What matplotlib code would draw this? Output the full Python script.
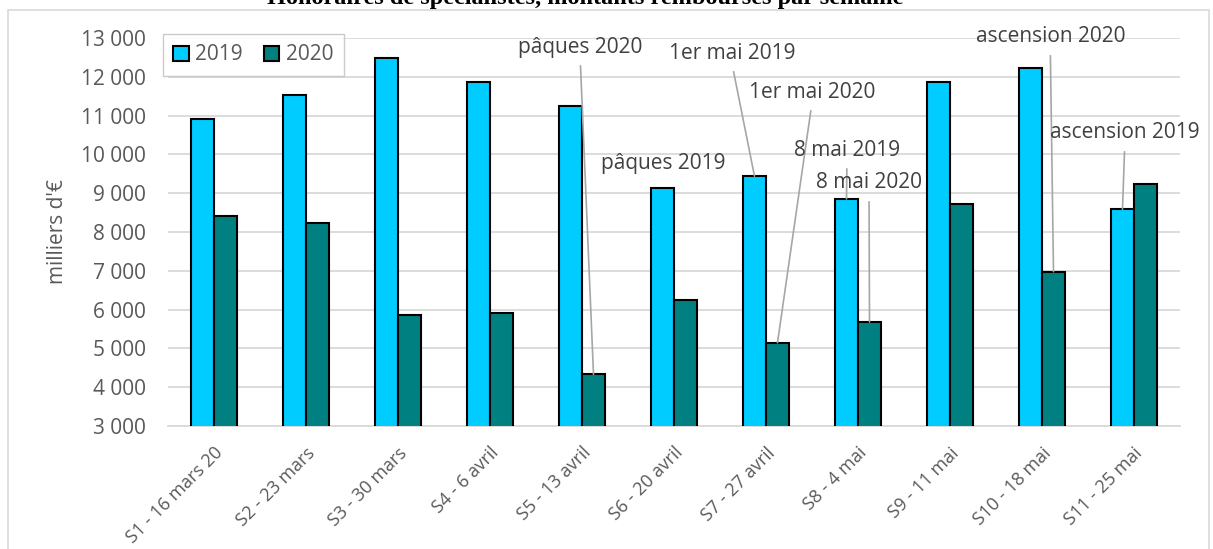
'''
Weekly reimbursed specialist fees, 2019 vs 2020, grouped bar chart with holiday callouts.
'''
import matplotlib.pyplot as plt
import numpy as np
from matplotlib.patches import Rectangle
from matplotlib.ticker import FuncFormatter, MultipleLocator
from matplotlib.transforms import ScaledTranslation

# Data (milliers d'€)
weeks = ["S1 - 16 mars 20", "S2 - 23 mars", "S3 - 30 mars", "S4 - 6 avril",
         "S5 - 13 avril", "S6 - 20 avril", "S7 - 27 avril", "S8 - 4 mai",
         "S9 - 11 mai", "S10 - 18 mai", "S11 - 25 mai"]
values_2019 = [10900, 11520, 12490, 11870, 11260, 9130, 9440, 8850, 11860, 12235, 8585]
values_2020 = [8425, 8240, 5870, 5900, 4330, 6245, 5145, 5680, 8730, 6975, 9240]

# Callouts: label, series year, week index
callout_labels = ["pâques 2020", "pâques 2019", "1er mai 2019", "1er mai 2020",
                  "8 mai 2019", "8 mai 2020", "ascension 2020", "ascension 2019"]
callout_years = [2020, 2019, 2019, 2020, 2019, 2020, 2020, 2019]
callout_weeks = [4, 5, 6, 6, 7, 7, 9, 10]
callout_has_line = [True, False, True, True, True, True, True, True]
# label centre positions (x in category units, y in data units)
callout_pos = [(3.98, 12768), (4.88, 9778), (5.63, 12613), (6.50, 11608),
               (6.88, 10113), (7.12, 9263), (9.09, 13030), (9.90, 10552)]

color_2019 = "#00CCFF"
color_2020 = "#008080"
text_color = "#595959"
grid_color = "#D9D9D9"

plt.rcParams['font.family'] = ['Open Sans', 'DejaVu Sans']

fig = plt.figure(figsize=(12.13, 5.49), dpi=100)
ax = fig.add_axes([168 / 1213, 1 - 426 / 549, (1180 - 168) / 1213, (426 - 38) / 549])

x = np.arange(len(weeks))
width = 0.25
ax.bar(x - width / 2, values_2019, width, color=color_2019, edgecolor="black",
       linewidth=1.5, label="2019", zorder=3)
ax.bar(x + width / 2, values_2020, width, color=color_2020, edgecolor="black",
       linewidth=1.5, label="2020", zorder=3)

ax.set_xlim(-0.5, len(weeks) - 0.5)
ax.set_ylim(3000, 13000)
ax.yaxis.set_major_locator(MultipleLocator(1000))
ax.yaxis.set_major_formatter(FuncFormatter(lambda v, _: f"{v:,.0f}".replace(",", " ")))
ax.grid(axis="y", color=grid_color, linewidth=1.3, zorder=0)
ax.set_axisbelow(True)
for side in ["top", "right", "left"]:
  ax.spines[side].set_visible(False)
ax.spines["bottom"].set_color(grid_color)
ax.spines["bottom"].set_linewidth(1.3)
ax.tick_params(axis="y", length=0, pad=16, labelsize=15, labelcolor=text_color)
ax.tick_params(axis="x", length=0, pad=16, labelsize=13, labelcolor=text_color)
ax.set_xticks(x)
ax.set_xticklabels(weeks, rotation=45, ha="right", va="center", rotation_mode="anchor")
# nudge rotated labels so their ends sit just right of the category centre
shift = ScaledTranslation(6 / 100, -2 / 100, fig.dpi_scale_trans)
for lbl in ax.get_xticklabels():
  lbl.set_transform(lbl.get_transform() + shift)
ax.set_ylabel("milliers d'€", fontsize=15, color=text_color, labelpad=9)

# Holiday callouts with grey leader lines
for label, year, week, has_line, pos in zip(callout_labels, callout_years, callout_weeks,
                                            callout_has_line, callout_pos):
  series = values_2019 if year == 2019 else values_2020
  bar_x = week - width / 2 if year == 2019 else week + width / 2
  arrow = dict(arrowstyle="-", color="#A6A6A6", lw=1.2, relpos=(0.5, 0.0),
               shrinkA=4, shrinkB=0) if has_line else None
  ax.annotate(label, xy=(bar_x, series[week]), xytext=pos, textcoords="data",
              ha="center", va="center", fontsize=15, color="#404040",
              arrowprops=arrow, annotation_clip=False, zorder=4)

leg = fig.legend(loc="upper left", bbox_to_anchor=(163 / 1213, 1 - 34 / 549), ncol=2,
                 fontsize=15, frameon=True, fancybox=False, borderaxespad=0,
                 handlelength=0.75, handleheight=0.75, handletextpad=0.3,
                 columnspacing=1.0, borderpad=0.5)
leg.get_frame().set_edgecolor("#BFBFBF")
leg.get_frame().set_linewidth(1.0)
for t in leg.get_texts():
  t.set_color(text_color)
for h in leg.legend_handles:
  h.set_linewidth(1.5)

# Chart-area frame and the cropped title
fig.patches.append(Rectangle((8 / 1213, -0.05), (1209 - 8) / 1213, 1.05 - 10 / 549,
                             transform=fig.transFigure, fill=False,
                             edgecolor=grid_color, linewidth=1.2))
fig.text(585 / 1213, 1 - 4 / 549, "Honoraires de spécialistes, montants remboursés par semaine",
         ha="center", va="baseline", fontsize=17.5, fontweight="bold",
         family=["Liberation Serif", "DejaVu Serif"])

fig.savefig("out.png", dpi=100)
